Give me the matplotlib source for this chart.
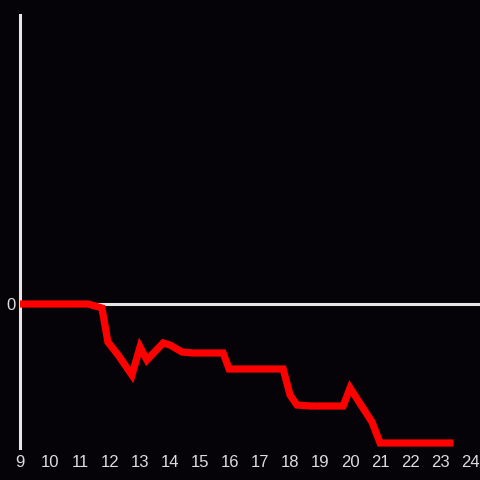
import matplotlib
matplotlib.use("Agg")
import matplotlib.pyplot as plt

# red series (y in arbitrary units, 0 = baseline)
xs = [9.0, 11.27, 11.73, 11.93, 12.27, 12.73, 13.0, 13.23, 13.77, 14.0,
      14.4, 14.77, 15.77, 15.97, 17.77, 18.0, 18.23, 18.67, 19.77, 20.0,
      20.73, 21.0, 23.33]
ys = [0, 0, -4, -38, -51, -71, -43, -56, -39, -41,
      -48, -49, -49, -65, -65, -91, -101, -102, -102, -84,
      -118, -139, -139]
xticks = list(range(9, 25))

plt.rcParams['font.family'] = ['Liberation Sans', 'DejaVu Sans']

bg = "#050307"
fig = plt.figure(figsize=(4.8, 4.8), dpi=100, facecolor=bg)
ax = fig.add_axes([20 / 480, 32 / 480, 460 / 480, 433 / 480])
ax.set_facecolor(bg)

ax.axhline(0, color="#e6e6e6", lw=2.2, zorder=1)
ax.plot(xs, ys, color="#ff0000", lw=5.2, solid_joinstyle="miter", zorder=3)

ax.set_xlim(9, 24.33)
ax.set_ylim(-144, 289)
ax.set_xticks(xticks)
ax.set_xticklabels([str(t) for t in xticks])
ax.set_yticks([0])
ax.set_yticklabels(["0"])
ax.tick_params(length=0, colors="#dddddd", labelsize=12)
ax.tick_params(axis="x", pad=5)
ax.tick_params(axis="y", pad=3)
for s in ["top", "right", "bottom"]:
    ax.spines[s].set_visible(False)
ax.spines["left"].set_color("#e6e6e6")
ax.spines["left"].set_linewidth(2.2)

fig.savefig("out.png", facecolor=bg)
